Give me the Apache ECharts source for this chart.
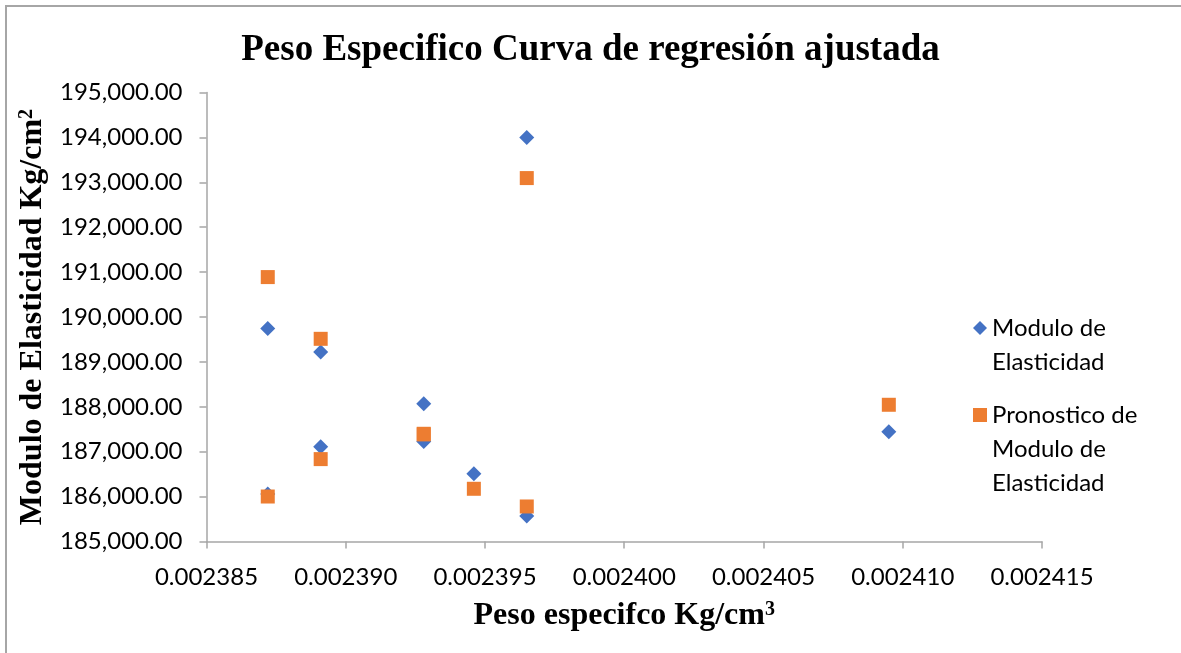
<!DOCTYPE html>
<html>
<head>
<meta charset="utf-8">
<script src="https://cdn.jsdelivr.net/npm/echarts@6/dist/echarts.min.js"></script>
<style>
  html, body { margin: 0; padding: 0; background: #ffffff; }
  #chart { width: 1181px; height: 653px; }
</style>
</head>
<body>
<div id="chart"></div>
<script>
// Specific weight (x) shared by both series
var pesoEspecifico = [
  0.0023872, 0.0023872, 0.0023891, 0.0023891, 0.0023928,
  0.0023928, 0.0023946, 0.0023965, 0.0023965, 0.0024095
];
// Measured modulus of elasticity
var moduloElasticidad = [
  189744, 186056, 189218, 187109, 188067,
  187227, 186508, 194000, 185570, 187443
];
// Predicted modulus of elasticity (fitted regression)
var pronosticoModulo = [
  190889, 186002, 189514, 186835, 187399,
  187385, 186174, 193094, 185780, 188045
];

var serieNames = ['Modulo de Elasticidad', 'Pronostico de Modulo de Elasticidad'];
var legendLines = {
  'Modulo de Elasticidad': ['Modulo de', 'Elasticidad'],
  'Pronostico de Modulo de Elasticidad': ['Pronostico de', 'Modulo de', 'Elasticidad']
};

function pairs(xs, ys) {
  return xs.map(function (x, i) { return [x, ys[i]]; });
}

function fmtThousands(v) {
  var s = Math.round(v).toString();
  return s.replace(/\B(?=(\d{3})+(?!\d))/g, ',') + '.00';
}

// Legend text: blank lines in front keep the icon level with the first line
function legendFormatter(name) {
  var lines = legendLines[name];
  var pad = [];
  for (var i = 1; i < lines.length; i++) pad.push('');
  return pad.concat(lines).join('\n');
}

var sansFont = 'Lato';
var serifFont = '"Liberation Serif", "Times New Roman", serif';
var axisGray = '#a6a6a6';
var supStyle = { fontFamily: serifFont, fontWeight: 'bold', fontSize: 20, color: '#000000', verticalAlign: 'top', padding: [0, 0, 12, 0] };

var chart = echarts.init(document.getElementById('chart'), null, { renderer: 'canvas' });

var legendCommon = {
  orient: 'vertical',
  left: 968,
  itemWidth: 14,
  itemHeight: 14,
  itemGap: 0,
  formatter: legendFormatter,
  textStyle: { fontFamily: sansFont, fontSize: 24, color: '#000000', lineHeight: 34 }
};

chart.setOption({
  backgroundColor: '#ffffff',
  animation: false,
  title: {
    text: 'Peso Especifico Curva de regresión ajustada',
    left: 'center',
    top: 27,
    textStyle: { fontFamily: serifFont, fontWeight: 'bold', fontSize: 37, color: '#000000' }
  },
  legend: [
    Object.assign({}, legendCommon, {
      top: 272,
      data: [{ name: serieNames[0], icon: 'diamond' }]
    }),
    Object.assign({}, legendCommon, {
      top: 325,
      data: [{ name: serieNames[1], icon: 'rect' }]
    })
  ],
  grid: { left: 206.5, right: 139, top: 92.5, bottom: 111.5, containLabel: false },
  xAxis: {
    type: 'value',
    min: 0.002385,
    max: 0.002415,
    interval: 0.000005,
    name: 'Peso especifco Kg/cm{sup|3}',
    nameLocation: 'middle',
    nameGap: 58,
    nameTextStyle: {
      fontFamily: serifFont, fontWeight: 'bold', fontSize: 32, color: '#000000',
      rich: { sup: supStyle }
    },
    axisLine: { show: true, onZero: false, lineStyle: { color: axisGray, width: 1.5 } },
    axisTick: { show: true, inside: false, length: 7, lineStyle: { color: axisGray, width: 1.5 } },
    splitLine: { show: false },
    axisLabel: {
      margin: 24,
      fontFamily: sansFont, fontSize: 24, color: '#000000',
      formatter: function (v) { return v.toFixed(6); }
    }
  },
  yAxis: {
    type: 'value',
    min: 185000,
    max: 195000,
    interval: 1000,
    name: 'Modulo de Elasticidad Kg/cm{sup|2}',
    nameLocation: 'middle',
    nameRotate: 90,
    nameGap: 149,
    nameTextStyle: {
      fontFamily: serifFont, fontWeight: 'bold', fontSize: 32, color: '#000000',
      rich: { sup: supStyle }
    },
    axisLine: { show: true, lineStyle: { color: axisGray, width: 1.5 } },
    axisTick: { show: true, inside: false, length: 7, lineStyle: { color: axisGray, width: 1.5 } },
    splitLine: { show: false },
    axisLabel: {
      margin: 24,
      fontFamily: sansFont, fontSize: 24, color: '#000000',
      formatter: fmtThousands
    }
  },
  series: [
    {
      name: serieNames[0],
      type: 'scatter',
      symbol: 'diamond',
      symbolSize: 15,
      itemStyle: { color: '#4472C4', opacity: 1 },
      data: pairs(pesoEspecifico, moduloElasticidad),
      z: 2
    },
    {
      name: serieNames[1],
      type: 'scatter',
      symbol: 'rect',
      symbolSize: 14,
      itemStyle: { color: '#ED7D31', opacity: 1 },
      data: pairs(pesoEspecifico, pronosticoModulo),
      z: 3
    }
  ],
  graphic: [
    { type: 'line', shape: { x1: 5, y1: 6, x2: 1181, y2: 6 }, style: { stroke: '#a6a6a6', lineWidth: 2 }, silent: true },
    { type: 'line', shape: { x1: 6, y1: 5, x2: 6, y2: 653 }, style: { stroke: '#a6a6a6', lineWidth: 2 }, silent: true }
  ]
});
</script>
</body>
</html>
